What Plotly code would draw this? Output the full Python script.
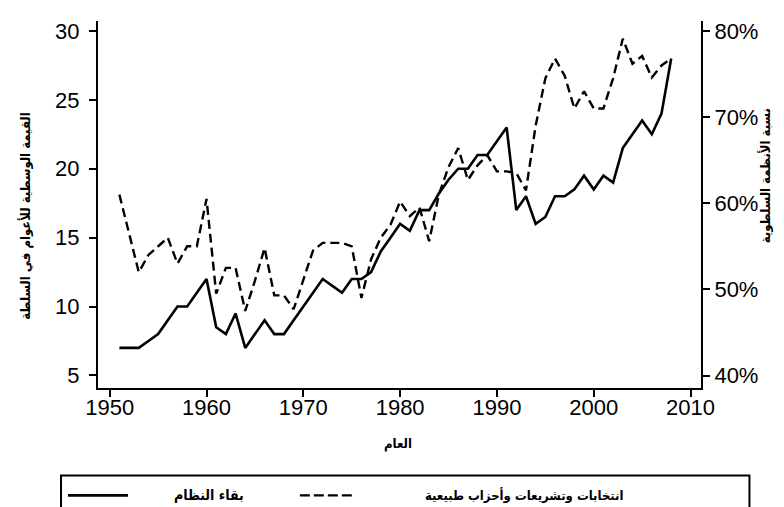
import plotly.graph_objects as go

years = list(range(1951, 2009))

regime_survival = [7, 7, 7, 7.5, 8, 9, 10, 10, 11, 12,
                   8.5, 8, 9.5, 7, 8, 9, 8, 8, 9, 10,
                   11, 12, 11.5, 11, 12, 12, 12.5, 14, 15, 16,
                   15.5, 17, 17, 18.2, 19.2, 20, 20, 21, 21, 22,
                   23, 17, 18, 16, 16.5, 18, 18, 18.5, 19.5, 18.5,
                   19.5, 19, 21.5, 22.5, 23.5, 22.5, 24, 28]

share_pct = [61, 56.5, 52, 54, 55, 56, 53, 55, 55, 60.5,
             49.5, 52.5, 52.5, 47.5, 51, 54.8, 49.3, 49.3, 47.7, 51,
             54.5, 55.4, 55.4, 55.4, 55, 49, 53.5, 56, 57.5, 60.2,
             58.5, 59.5, 55.6, 61, 64.2, 66.4, 62.7, 64.4, 65.6, 63.7,
             63.7, 63.5, 61.5, 69, 74.5, 76.8, 74.8, 71, 73, 71,
             71, 74.5, 79.1, 76.2, 77.1, 74.6, 76, 76.8]

left_ticks = [5, 10, 15, 20, 25, 30]
right_ticks = [40, 50, 60, 70, 80]
right_tick_labels = ["40%", "50%", "60%", "70%", "80%"]
x_ticks = [1950, 1960, 1970, 1980, 1990, 2000, 2010]

name_solid = "بقاء النظام"
name_dash = "انتخابات وتشريعات وأحزاب طبيعية"
title_left = "القيمة الوسطية للأعوام في السلطة"
title_right = "نسبة الأنظمة السلطوية"
title_x = "العام"

W, H = 784, 507
L, R, T, B = 90, 90.5, 13, 126.5
PW = W - L - R
PH = H - T - B


def px(x):
    return (x - L) / PW


def py(y):
    return (H - B - y) / PH


tick_font = dict(family="Liberation Sans, Arial, sans-serif", size=22, color="black")
ar_family = "DejaVu Sans Condensed, DejaVu Sans, sans-serif"
DASH = "9px,5px"

fig = go.Figure()
fig.add_trace(go.Scatter(x=years, y=regime_survival, mode="lines", name=name_solid,
                         line=dict(color="black", width=2.6), showlegend=False))
fig.add_trace(go.Scatter(x=years, y=share_pct, mode="lines", name=name_dash, yaxis="y2",
                         line=dict(color="black", width=2.4, dash=DASH), showlegend=False))

axis_common = dict(showline=True, linecolor="black", linewidth=2, ticks="outside",
                   ticklen=7, tickwidth=2, tickcolor="black", showgrid=False,
                   zeroline=False, tickfont=tick_font)

fig.update_layout(
    width=W, height=H,
    margin=dict(l=L, r=R, t=T, b=B),
    paper_bgcolor="white", plot_bgcolor="white",
    xaxis=dict(range=[1948.79, 2011.08], tickvals=x_ticks, ticklabelstandoff=-8, **axis_common),
    yaxis=dict(range=[4.09, 30.72], tickvals=left_ticks, ticklabelstandoff=5, **axis_common),
    yaxis2=dict(range=[38.55, 81.16], tickvals=right_ticks, ticktext=right_tick_labels,
                overlaying="y", side="right", ticklabelstandoff=0, **axis_common),
    showlegend=False,
)

annotations = [
    dict(text="<b>%s</b>" % title_left, x=px(18), y=py(208), textangle=-90, size=13),
    dict(text="<b>%s</b>" % title_right, x=px(757), y=py(168), textangle=-90, size=13),
    dict(text="<b>%s</b>" % title_x, x=px(390), y=py(437), size=13),
    dict(text="<b>%s</b>" % name_solid, x=px(201), y=py(488), size=14),
    dict(text="<b>%s</b>" % name_dash, x=px(517), y=py(488), size=13),
]
for a in annotations:
    size = a.pop("size")
    fig.add_annotation(xref="paper", yref="paper", showarrow=False,
                       xanchor="center", yanchor="middle",
                       font=dict(family=ar_family, size=size, color="black"), **a)

shapes = [
    dict(type="rect", x0=px(53), x1=px(742), y0=py(468), y1=py(520),
         line=dict(color="black", width=2), fillcolor="rgba(0,0,0,0)"),
    dict(type="line", x0=px(60), x1=px(120), y0=py(488), y1=py(488),
         line=dict(color="black", width=2.6)),
    dict(type="line", x0=px(292), x1=px(344), y0=py(488), y1=py(488),
         line=dict(color="black", width=2.4, dash="10px,4px")),
]
for s in shapes:
    fig.add_shape(xref="paper", yref="paper", **s)

fig.write_html("out.html")
